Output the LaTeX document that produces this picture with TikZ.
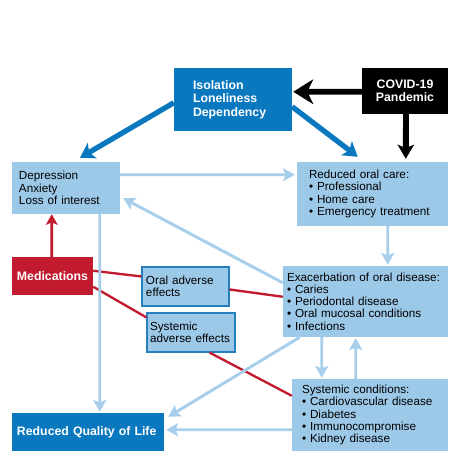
\documentclass[tikz,border=0pt]{standalone}
\usepackage{fontspec}
\setmainfont{Liberation Sans}
\usetikzlibrary{arrows.meta,calc}
\definecolor{dblue}{HTML}{0A78BE}
\definecolor{lblue}{HTML}{9DC9E8}
\definecolor{ablue}{HTML}{A7CEEA}
\definecolor{bblue}{HTML}{2680C0}
\definecolor{medred}{HTML}{C21B2F}
\begin{document}
\begin{tikzpicture}[x=0.03cm,y=-0.03cm,
  every node/.style={inner xsep=0pt,inner ysep=0pt,font=\fontsize{10}{10.5}\selectfont,
    execute at begin node={\hyphenpenalty=10000\exhyphenpenalty=10000}},
  lbox/.style={fill=lblue,align=left},
  bbox/.style={fill=lblue,draw=bblue,line width=0.9pt,align=left},
  dbox/.style={fill=dblue,text=white,font=\fontsize{10.5}{11.5}\selectfont\bfseries},
  kbox/.style={fill=black,text=white,align=center,font=\fontsize{10.5}{10.8}\selectfont\bfseries},
  rbox/.style={fill=medred,text=white,align=center,font=\fontsize{10.5}{11}\selectfont\bfseries},
  larrow/.style={draw=ablue,line width=2.5pt,-{Stealth[length=10pt,width=11pt,inset=2pt]}},
  darrow/.style={draw=dblue,line width=4.5pt,-{Stealth[length=12pt,width=15pt,inset=3pt]}},
  karrow/.style={draw=black,line width=5pt},
  rline/.style={draw=medred,line width=2pt},
]
\useasboundingbox[fill=white] (0,0) rectangle (474,460);

\node[dbox,align=left,minimum width=3.54cm,minimum height=1.89cm,text width=2.4cm] (iso) at (233,99.5) {Isolation\\Loneliness\\Dependency};
\node[kbox,minimum width=2.58cm,minimum height=1.38cm] (covid) at (405,91) {COVID-19\\Pandemic};
\node[lbox,minimum width=3.24cm,minimum height=1.56cm,text width=2.82cm] (dep) at (66,188) {Depression\\Anxiety\\Loss of interest};
\node[lbox,minimum width=4.53cm,minimum height=1.92cm,text width=3.81cm] (roc) at (372.5,194) {Reduced oral care:\\• Professional\\• Home care\\• Emergency treatment};
\node[rbox,minimum width=2.43cm,minimum height=1.14cm] (med) at (52.5,276) {Medications};
\node[bbox,minimum width=2.61cm,minimum height=1.17cm,text width=2.37cm] (oae) at (185.5,286.5) {Oral adverse\\effects};
\node[bbox,minimum width=2.64cm,minimum height=1.17cm,text width=2.46cm] (sae) at (191,332.5) {Systemic\\adverse effects};
\node[lbox,minimum width=4.95cm,minimum height=2.13cm,text width=4.71cm] (exa) at (365.5,301.5) {Exacerbation of oral disease:\\• Caries\\• Periodontal disease\\• Oral mucosal conditions\\• Infections};
\node[lbox,minimum width=4.68cm,minimum height=2.16cm,text width=4.08cm] (sys) at (370,415) {Systemic conditions:\\• Cardiovascular disease\\• Diabetes\\• Immunocompromise\\• Kidney disease};
\node[dbox,align=left,minimum width=4.56cm,minimum height=1.14cm,text width=4.26cm] (qol) at (88,432) {Reduced Quality of Life};

% red lines
\draw[rline] ($(med.north east)+(0,14)$) -- ($(oae.north west)+(0,10)$);
\draw[rline] ($(oae.north east)+(0,23)$) -- ($(exa.north west)+(0,31)$);
\draw[rline] ($(med.north east)+(0,30)$) -- ($(sae.north west)+(0,5)$);
\draw[rline] ($(sae.south west)+(63,0)$) -- ($(sys.north west)+(0,17)$);

% light blue arrows
\draw[larrow] ($(dep.north east)+(0,13)$) -- ($(roc.north west)+(-2,13)$);
\draw[larrow] ($(exa.north west)+(0,17)$) -- ($(dep.south east)+(3,-16)$);
\draw[larrow] ($(dep.south west)+(88,0)$) -- ($(qol.north west)+(88,-1)$);
\draw[larrow] ($(roc.south west)+(91,0)$) -- ($(exa.north west)+(105,-1)$);
\draw[larrow] ($(exa.south west)+(39,0)$) -- ($(sys.north west)+(30,-1)$);
\draw[larrow] ($(sys.north west)+(64,0)$) -- ($(exa.south west)+(73,1)$);
\draw[larrow] ($(exa.south west)+(17,0)$) -- ($(qol.north east)+(4,4)$);
\draw[larrow] ($(sys.north west)+(0,51)$) -- ($(qol.north east)+(2,17)$);

% red arrow
\draw[draw=medred,line width=2.5pt,-{Stealth[length=9pt,width=10pt,inset=2pt]}] ($(med.north west)+(40,0)$) -- ($(dep.south west)+(40,0)$);

% dark blue arrows
\draw[darrow] ($(iso.north west)+(0,35)$) -- ($(dep.north)+(14,-4)$);
\draw[darrow] ($(iso.north east)+(0,39)$) -- ($(roc.north west)+(61,-5)$);

% black arrows
\draw[karrow,-{Stealth[length=17pt,width=21pt,inset=5pt]}] ($(covid.north west)+(0,24)$) -- ($(iso.north east)+(1,24)$);
\draw[karrow,-{Stealth[length=12pt,width=14pt,inset=3pt]}] ($(covid.south)+(1,0)$) -- ($(roc.north west)+(109,-3)$);
\end{tikzpicture}
\end{document}
